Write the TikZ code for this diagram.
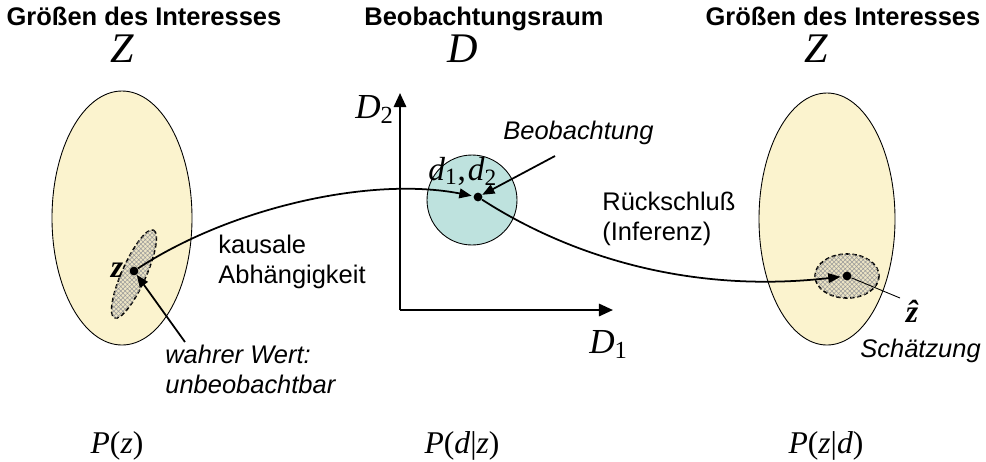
\documentclass[tikz,border=0pt]{standalone}
\usepackage{fontspec}
\setmainfont{Liberation Sans}
\newfontfamily\tms{Liberation Serif}
\usetikzlibrary{arrows.meta,patterns.meta}
\definecolor{zfill}{RGB}{251,243,206}
\definecolor{dfill}{RGB}{190,226,222}
\definecolor{hfill}{RGB}{236,228,196}

\begin{document}
\begin{tikzpicture}[x=0.02cm,y=-0.02cm,>={Triangle[length=7pt,width=5.5pt]},
  titel/.style={anchor=base,font=\fontsize{14.5}{17}\selectfont\bfseries},
  gross/.style={anchor=base,font=\fontsize{24}{28}\selectfont\tms\itshape},
  wk/.style={anchor=base,font=\fontsize{18}{21}\selectfont\tms\itshape},
  txt/.style={anchor=base west,align=left,inner sep=0pt,font=\fontsize{14.5}{17}\selectfont},
  kursiv/.style={txt,font=\fontsize{14.5}{17}\selectfont\itshape},
  mpunkt/.style={circle,fill,inner sep=0pt,minimum size=5pt},
  verb/.style={line width=1pt},
  achse/.style={line width=1.3pt,-{Triangle[length=8pt,width=7pt]}},
  schraffur/.style={line width=.9pt,dash pattern=on 2.5pt off 1.5pt,fill=hfill,
    postaction={pattern={Hatch[angle=45,distance=1.8pt,line width=.3pt]},pattern color=black!40}}]
\useasboundingbox (0,0) rectangle (986,461);

% Groessen des Interesses links
\node[titel] (t1) at (144,25) {Größen des Interesses};
\node[gross] (Z1) at (122,62) {Z};
\draw[line width=.5pt,fill=zfill] (122,218) ellipse [x radius=70,y radius=127];
\begin{scope}[shift={(134,274)},rotate=66]
\draw[schraffur] (0,0) ellipse [x radius=48,y radius=12];
\end{scope}
\node[mpunkt] (z) at (134,271) {};
\node[anchor=base,font=\fontsize{18}{21}\selectfont\tms\bfseries\itshape] (zl) at (117,277) {z};
\coordinate (w) at (185,342);
\draw[verb,->] (w) -- (z);
\node[kursiv] (wl) at (165,393) {wahrer Wert:\\unbeobachtbar};

% Beobachtungsraum
\node[titel] (t2) at (484,25) {Beobachtungsraum};
\node[gross] (D) at (463,62) {D};
\coordinate (o) at (400,310);
\coordinate (y2) at (400,93);
\coordinate (x1) at (613,310);
\draw[achse] (o) -- (y2);
\draw[achse] (o) -- (x1);
\node[anchor=base west,inner sep=0pt,font=\fontsize{20}{24}\selectfont\tms] (D2) at (355,118) {\textit{D}\textsubscript{2}};
\node[anchor=base west,inner sep=0pt,font=\fontsize{20}{24}\selectfont\tms] (D1) at (589,353) {\textit{D}\textsubscript{1}};
\draw[line width=.5pt,fill=dfill] (472,200) circle [radius=45];
\node[mpunkt] (d) at (478,197) {};
\node[anchor=base west,inner sep=0pt,font=\fontsize{19}{22}\selectfont\tms] (dl) at (428,180) {\textit{d}\textsubscript{1},\kern1pt\textit{d}\textsubscript{2}};
\coordinate (b) at (555,156);
\draw[verb,->] (b) -- (d);
\node[kursiv] (bl) at (503,139) {Beobachtung};

% Groessen des Interesses rechts
\node[titel] (t3) at (843,25) {Größen des Interesses};
\node[gross] (Z2) at (816,62) {Z};
\draw[line width=.5pt,fill=zfill] (827,219) ellipse [x radius=68,y radius=126];
\draw[schraffur] (847,276) ellipse [x radius=32,y radius=22];
\node[mpunkt] (zh) at (847,276) {};
\coordinate (s) at (900,298);
\draw[line width=.5pt] (zh) -- (s);
\node[anchor=base,font=\fontsize{18}{21}\selectfont\tms\bfseries\itshape] (zhl) at (912,322) {\^z};
\node[kursiv] (sl) at (860,357) {Schätzung};

% Verbindungen
\draw[verb,->,shorten >=1pt] (z) .. controls (230,208) and (370,176) .. (d);
\node[txt] (kl) at (218,283) {kausale\\Abhängigkeit};
\draw[verb,->,shorten >=1pt] (d) .. controls (560,250) and (680,295) .. (zh);
\node[txt] (rl) at (602,240) {Rückschluß\\(Inferenz)};

% Verteilungen
\node[wk] (p1) at (117,453) {P\textup{(}z\textup{)}};
\node[wk] (p2) at (462,453) {P\textup{(}d\textup{|}z\textup{)}};
\node[wk] (p3) at (826,453) {P\textup{(}z\textup{|}d\textup{)}};
\end{tikzpicture}
\end{document}
